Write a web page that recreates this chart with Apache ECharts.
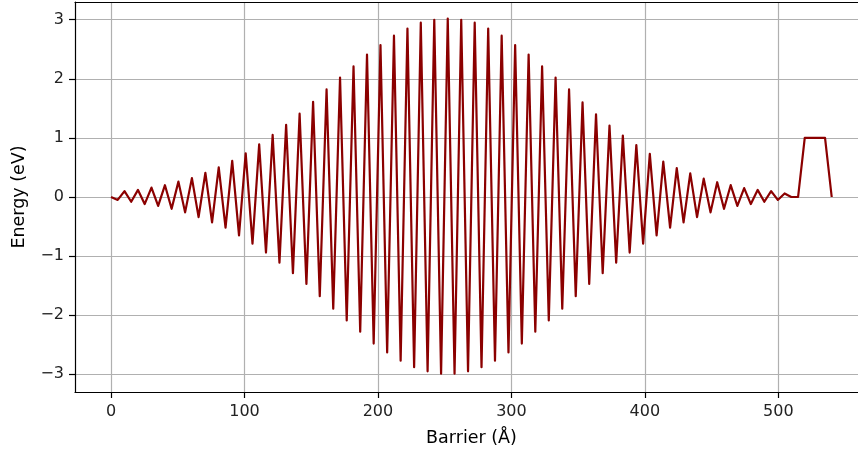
<!DOCTYPE html>
<html>
<head>
<meta charset="utf-8">
<script src="https://cdn.jsdelivr.net/npm/echarts@6/dist/echarts.min.js"></script>
<style>
  html, body { margin: 0; padding: 0; background: #fff; overflow: hidden; }
  #chart { width: 858px; height: 452px; }
</style>
</head>
<body>
<div id="chart"></div>
<script>
// barrier position (Å)
var barrierX = [
  0.0, 5.0, 10.1, 15.1, 20.2, 25.2, 30.3, 35.3, 40.4, 45.4,
  50.5, 55.5, 60.6, 65.6, 70.7, 75.7, 80.7, 85.8, 90.8, 95.9,
  100.9, 106.0, 111.0, 116.1, 121.1, 126.2, 131.2, 136.3, 141.3, 146.4,
  151.4, 156.4, 161.5, 166.5, 171.6, 176.6, 181.7, 186.7, 191.8, 196.8,
  201.9, 206.9, 212.0, 217.0, 222.1, 227.1, 232.1, 237.2, 242.2, 247.3,
  252.3, 257.4, 262.4, 267.5, 272.5, 277.6, 282.6, 287.7, 292.7, 297.8,
  302.8, 307.8, 312.9, 317.9, 323.0, 328.0, 333.1, 338.1, 343.2, 348.2,
  353.3, 358.3, 363.4, 368.4, 373.5, 378.5, 383.5, 388.6, 393.6, 398.7,
  403.7, 408.8, 413.8, 418.9, 423.9, 429.0, 434.0, 439.1, 444.1, 449.2,
  454.2, 459.3, 464.3, 469.3, 474.4, 479.4, 484.5, 489.5, 494.6, 499.6,
  504.7, 509.7, 514.8, 519.8, 524.9, 529.9, 535.0, 540.0
];

// energy (eV)
var energy = [
  0, -0.05, 0.10, -0.08, 0.12, -0.12, 0.16, -0.15, 0.20, -0.20,
  0.26, -0.26, 0.32, -0.34, 0.41, -0.43, 0.50, -0.52, 0.61, -0.65,
  0.74, -0.79, 0.89, -0.94, 1.05, -1.11, 1.22, -1.29, 1.41, -1.47,
  1.61, -1.68, 1.82, -1.89, 2.02, -2.09, 2.21, -2.28, 2.41, -2.48,
  2.57, -2.63, 2.73, -2.77, 2.85, -2.88, 2.95, -2.95, 3.00, -2.99,
  3.02, -2.99, 3.00, -2.95, 2.95, -2.88, 2.85, -2.77, 2.73, -2.63,
  2.57, -2.48, 2.41, -2.28, 2.21, -2.09, 2.02, -1.89, 1.82, -1.68,
  1.60, -1.47, 1.40, -1.29, 1.21, -1.11, 1.04, -0.94, 0.88, -0.79,
  0.73, -0.65, 0.60, -0.52, 0.49, -0.43, 0.40, -0.34, 0.31, -0.26,
  0.25, -0.20, 0.20, -0.15, 0.15, -0.12, 0.12, -0.08, 0.10, -0.05,
  0.06, 0, 0, 1, 1, 1, 1, 0
];

var xTicks = [0, 100, 200, 300, 400, 500];
var yTicks = [-3, -2, -1, 0, 1, 2, 3];

var points = barrierX.map(function (x, i) { return [x, energy[i]]; });

function minus(v) {
  return String(v).replace('-', '\u2212');
}

var font = 'DejaVu Sans';
var chart = echarts.init(document.getElementById('chart'));

// the original axes go a bit past the right edge (picture is cropped), so x max stops early
chart.setOption({
  animation: false,
  grid: { left: 75, right: 0, top: 2, bottom: 57 },
  xAxis: [
    {
      type: 'value',
      min: -27,
      max: 559.7,
      name: 'Barrier (Å)',
      nameLocation: 'middle',
      nameGap: 37,
      // nudge right: the name is centred on the uncropped axes
      nameTextStyle: { fontFamily: font, fontSize: 17.5, color: '#000', padding: [0, 0, 0, 10] },
      axisLine: { onZero: false, lineStyle: { color: '#000', width: 1.2 } },
      axisTick: { customValues: xTicks, length: 6, lineStyle: { color: '#000', width: 1.2 } },
      axisLabel: { customValues: xTicks, margin: 12, fontFamily: font, fontSize: 16, color: '#222', formatter: minus },
      splitLine: { show: true, lineStyle: { color: '#b0b0b0', width: 1.2 } }
    },
    {
      type: 'value',
      position: 'top',
      min: -27,
      max: 559.7,
      axisLine: { show: true, onZero: false, lineStyle: { color: '#000', width: 1.2 } },
      axisTick: { show: false },
      axisLabel: { show: false },
      splitLine: { show: false }
    }
  ],
  yAxis: {
    type: 'value',
    min: -3.3,
    max: 3.3,
    name: 'Energy (eV)',
    nameLocation: 'middle',
    nameGap: 47,
    nameTextStyle: { fontFamily: font, fontSize: 17.5, color: '#000' },
    axisLine: { show: true, onZero: false, lineStyle: { color: '#000', width: 1.2 } },
    axisTick: { show: true, customValues: yTicks, length: 6, lineStyle: { color: '#000', width: 1.2 } },
    axisLabel: { customValues: yTicks, margin: 11, fontFamily: font, fontSize: 16, color: '#222', formatter: minus },
    splitLine: { show: true, lineStyle: { color: '#b0b0b0', width: 1.2 } }
  },
  series: [
    {
      type: 'line',
      data: points,
      showSymbol: false,
      lineStyle: { color: '#8b0000', width: 2.2, join: 'round' }
    }
  ]
});
</script>
</body>
</html>
